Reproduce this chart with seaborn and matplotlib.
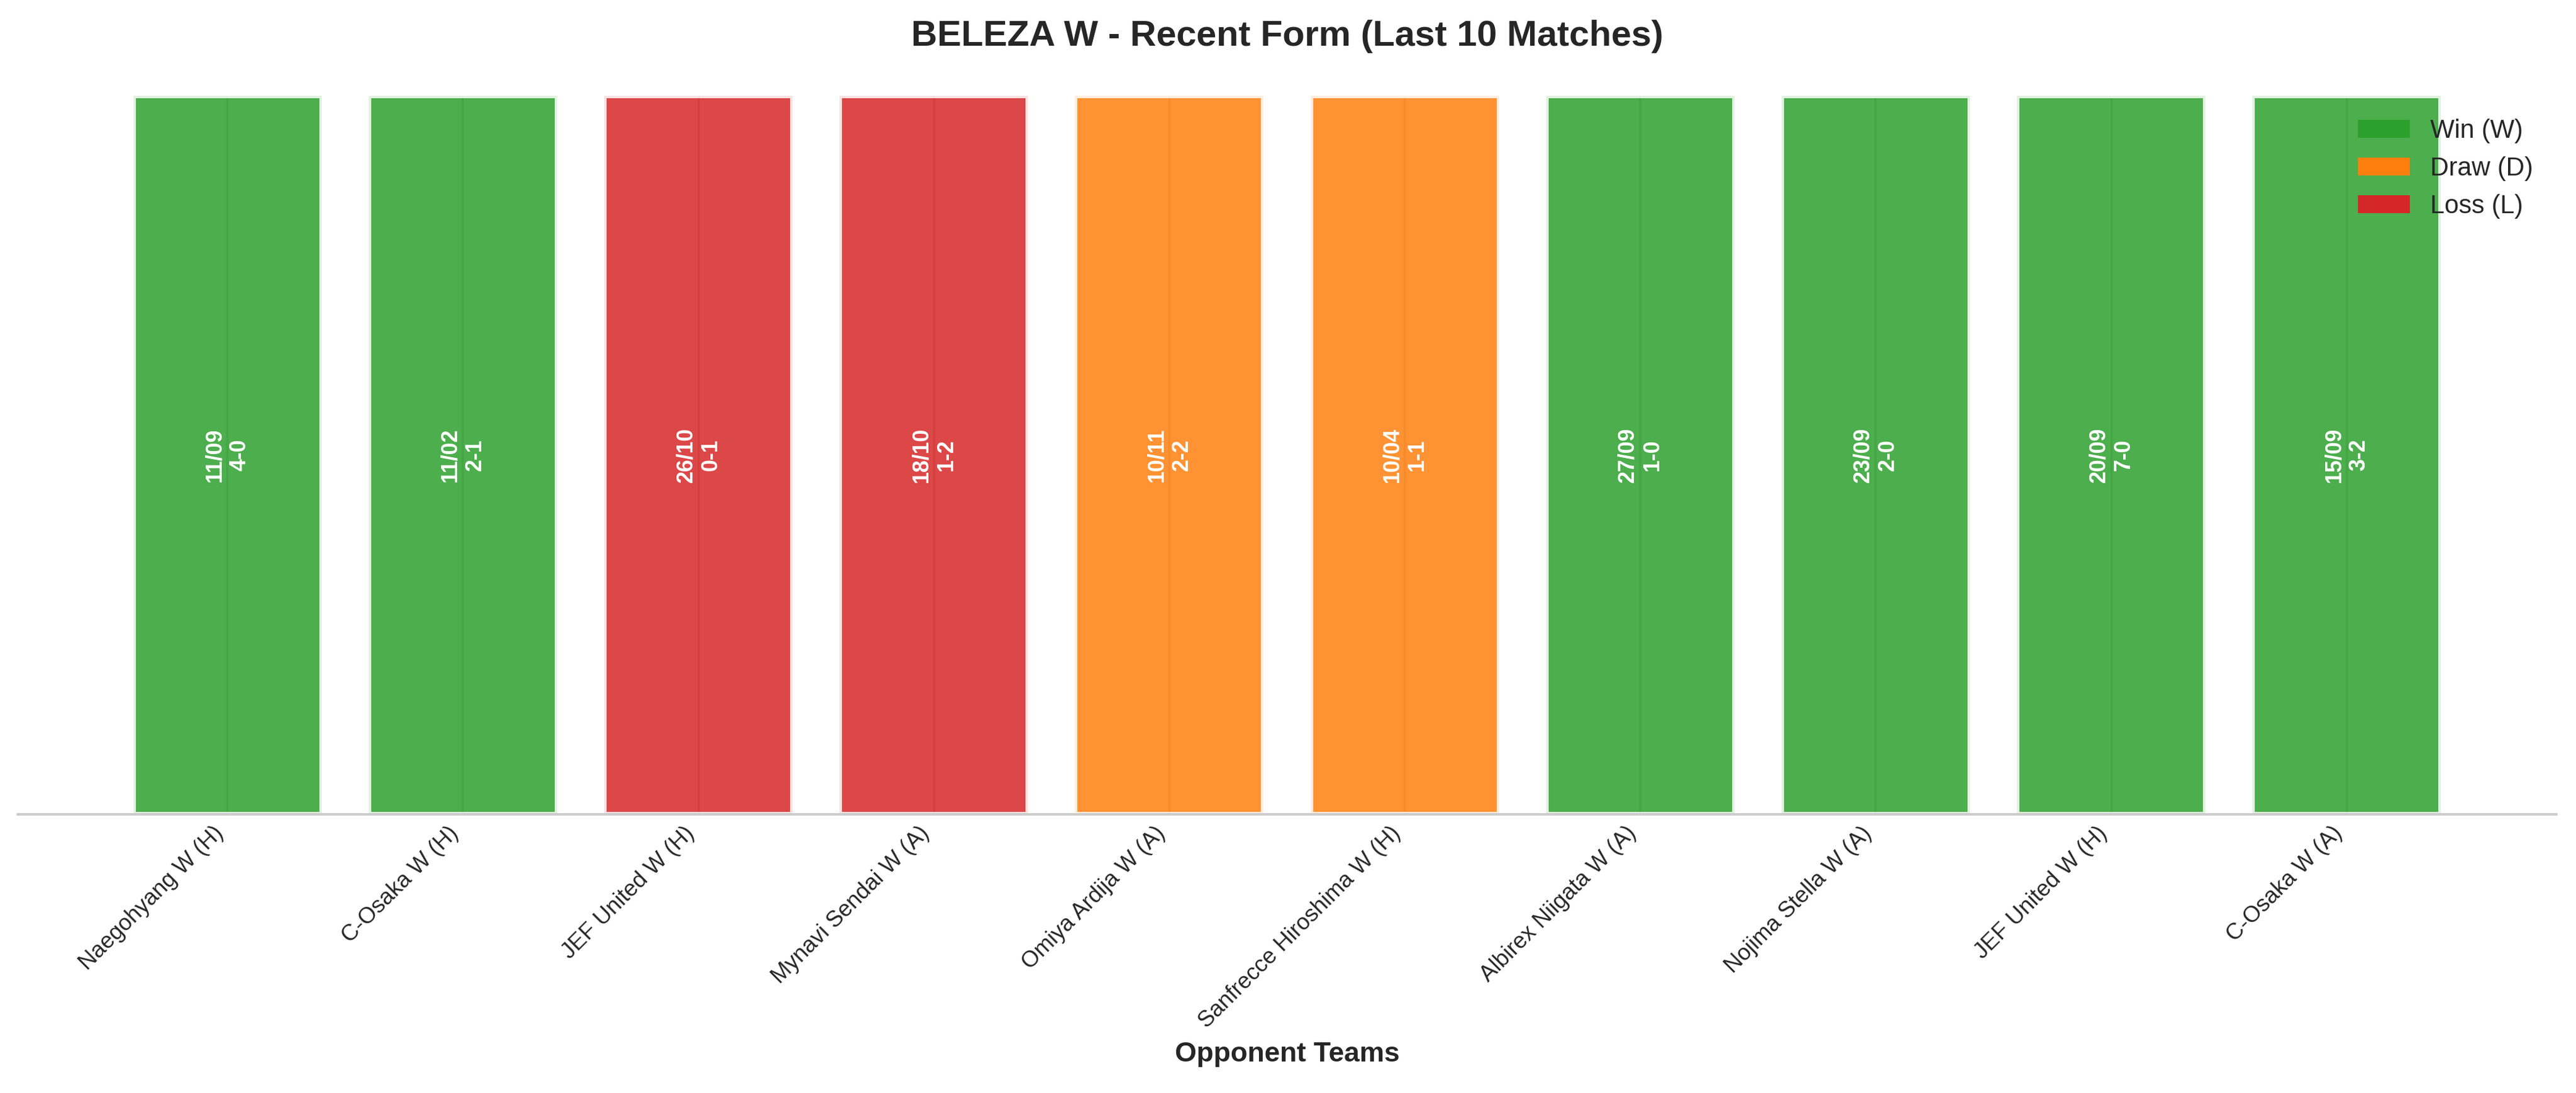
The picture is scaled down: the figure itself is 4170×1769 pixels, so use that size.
import matplotlib
matplotlib.use("Agg")
import matplotlib.pyplot as plt
import seaborn as sns
import pandas as pd
from matplotlib.patches import Patch

# ---- data ----
opponents = ["Naegohyang W (H)", "C-Osaka W (H)", "JEF United W (H)", "Mynavi Sendai W (A)",
             "Omiya Ardija W (A)", "Sanfrecce Hiroshima W (H)", "Albirex Niigata W (A)",
             "Nojima Stella W (A)", "JEF United W (H)", "C-Osaka W (A)"]
results = ["W", "W", "L", "L", "D", "D", "W", "W", "W", "W"]
dates = ["11/09", "11/02", "26/10", "18/10", "10/11", "10/04", "27/09", "23/09", "20/09", "15/09"]
scores = ["4-0", "2-1", "0-1", "1-2", "2-2", "1-1", "1-0", "2-0", "7-0", "3-2"]
bar_heights = [1, 1, 1, 1, 1, 1, 1, 1, 1, 1]

result_colors = {"W": "#2ca02c", "D": "#ff7f0e", "L": "#d62728"}
legend_labels = {"W": "Win (W)", "D": "Draw (D)", "L": "Loss (L)"}

sns.set_theme(style="whitegrid")
plt.rcParams["font.family"] = ["Liberation Sans", "DejaVu Sans"]
plt.rcParams["text.color"] = "0.15"
plt.rcParams["axes.labelcolor"] = "0.15"
plt.rcParams["xtick.color"] = "0.15"

df = pd.DataFrame({"idx": list(range(len(opponents))), "h": bar_heights, "res": results})

fig = plt.figure(figsize=(4170 / 300, 1769 / 300), dpi=300)
ax = fig.add_axes([0.00695, 0.2549, 0.98538, 0.6575])

sns.barplot(data=df, x="idx", y="h", hue="res", palette=result_colors, dodge=False,
            saturation=1, width=0.8, alpha=0.85, edgecolor="white", linewidth=1.9,
            legend=False, errorbar=None, ax=ax)

n = len(opponents)
pad = 0.05 * (n - 1 + 0.8)
ax.set_xlim(-0.4 - pad, n - 1 + 0.4 + pad)
ax.set_ylim(0, 1.0)

for i in range(n):
    ax.text(i, bar_heights[i] / 2, f"{dates[i]}\n{scores[i]}", rotation=90,
            ha="center", va="center", color="white", fontweight="bold",
            fontsize=8.6, multialignment="center")

ax.set_xticks(range(n))
ax.set_xticklabels(opponents, rotation=45, ha="right", fontsize=8.8)
ax.tick_params(axis="x", length=0, pad=3.1)
ax.set_yticks([])
ax.set_ylabel("")
ax.set_xlabel("Opponent Teams", fontsize=10.8, fontweight="bold", labelpad=3.5)
ax.set_title("BELEZA W - Recent Form (Last 10 Matches)", fontsize=14, fontweight="bold", pad=19.5)

for side in ["left", "top", "right"]:
    ax.spines[side].set_visible(False)
ax.spines["bottom"].set_color("0.8")
ax.spines["bottom"].set_linewidth(1.0)
ax.grid(axis="x", color="0.8", linewidth=0.9)
ax.set_axisbelow(True)

handles = [Patch(facecolor=result_colors[k], edgecolor="none", label=legend_labels[k])
           for k in ["W", "D", "L"]]
ax.legend(handles=handles, loc="upper right", frameon=False, fontsize=10)

fig.savefig("out.png", dpi=300)
